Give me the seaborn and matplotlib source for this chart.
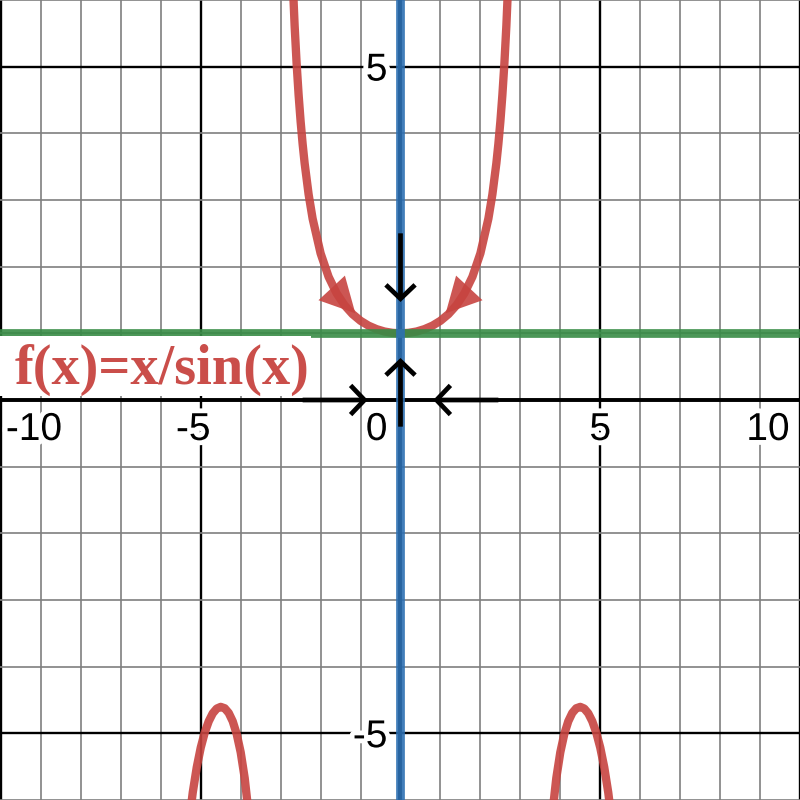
import numpy as np
import pandas as pd
import matplotlib
matplotlib.use("Agg")
import matplotlib.pyplot as plt
import matplotlib.patheffects as pe
from matplotlib.patches import Rectangle
import seaborn as sns

# ---------------- data ----------------
# central branch of f(x) = x / sin(x)
center_x = [-2.75, -2.7, -2.65, -2.6, -2.55, -2.5, -2.45, -2.4, -2.3, -2.2, -2.0, -1.8,
            -1.6, -1.4, -1.2, -1.0, -0.8, -0.6, -0.4, -0.2, 0.0,
            0.2, 0.4, 0.6, 0.8, 1.0, 1.2, 1.4, 1.6, 1.8, 2.0, 2.2, 2.3, 2.4,
            2.45, 2.5, 2.55, 2.6, 2.65, 2.7, 2.75]
center_y = [7.205, 6.318, 5.614, 5.044, 4.573, 4.177, 3.842, 3.553, 3.084, 2.721, 2.200, 1.848,
            1.601, 1.421, 1.288, 1.188, 1.115, 1.063, 1.027, 1.007, 1.000,
            1.007, 1.027, 1.063, 1.115, 1.188, 1.288, 1.421, 1.601, 1.848, 2.200, 2.721, 3.084, 3.553,
            3.842, 4.177, 4.573, 5.044, 5.614, 6.318, 7.205]
# negative branches between pi and 2*pi (and mirrored)
right_x = [3.8, 3.9, 4.0, 4.1, 4.2, 4.3, 4.4, 4.5, 4.6, 4.7, 4.8, 4.9, 5.0, 5.1, 5.2, 5.3]
right_y = [-6.211, -5.671, -5.285, -5.011, -4.819, -4.694, -4.624, -4.603, -4.629, -4.700,
           -4.819, -4.988, -5.214, -5.509, -5.886, -6.368]
left_x = [-3.8, -3.9, -4.0, -4.1, -4.2, -4.3, -4.4, -4.5, -4.6, -4.7, -4.8, -4.9, -5.0, -5.1, -5.2, -5.3]
left_y = right_y

green_level = 1.0          # horizontal line y = 1
blue_x = 0.0               # vertical line x = 0

# black arrows: (start, end)
black_arrows = [((0.0, 2.5), (0.0, 1.47)),
                ((0.0, -0.4), (0.0, 0.63)),
                ((-2.45, 0.0), (-0.82, 0.0)),
                ((2.45, 0.0), (0.82, 0.0))]
# red arrow heads on the curve: (tail, tip)
red_arrows = [((-2.00, 1.86), (-1.13, 1.30)),
              ((2.00, 1.86), (1.13, 1.30))]

x_tick_labels = ["-10", "-5", "0", "5", "10"]
x_tick_vals = [-10, -5, 0, 5, 10]
y_tick_labels = ["5", "-5"]
y_tick_vals = [5, -5]
label_text = "f(x)=x/sin(x)"

RED = "#c74440"
GREEN = "#388c46"
BLUE = "#2d70b3"

# ---------------- figure ----------------
sns.set_style("white")
plt.rcParams["font.family"] = ["Liberation Sans", "DejaVu Sans"]

fig = plt.figure(figsize=(8, 8), dpi=100)
ax = fig.add_axes([0, 0, 1, 1])
ax.set_xlim(-10.025, 9.975)
ax.set_ylim(-6.0, 6.0)

# grid
ax.set_xticks(np.arange(-10, 11, 5))
ax.set_xticks(np.arange(-10, 11, 1), minor=True)
ax.set_yticks(np.arange(-5, 6, 5))
ax.set_yticks(np.arange(-6, 7, 1), minor=True)
ax.grid(which="minor", color="#7f7f7f", lw=1.2, zorder=0)
ax.grid(which="major", color="black", lw=1.7, zorder=0.5)
ax.tick_params(which="both", length=0, labelbottom=False, labelleft=False)
for s in ax.spines.values():
    s.set_visible(False)
ax.set_axisbelow(True)
ax.axhline(0, color="black", lw=2.8, zorder=1)
ax.axvline(0, color="black", lw=2.8, zorder=1)

# curve branches
for bx, by in [(center_x, center_y), (right_x, right_y), (left_x, left_y)]:
    df = pd.DataFrame({"x": bx, "y": by})
    sns.lineplot(data=df, x="x", y="y", sort=False, estimator=None, ax=ax,
                 color=RED, lw=6.0, alpha=0.9, zorder=3, solid_capstyle="round")

# green and blue lines
ax.axhline(green_level, color=GREEN, lw=6.3, alpha=0.9, zorder=4)
ax.axvline(blue_x, color=BLUE, lw=6.3, alpha=0.9, zorder=5)

# black arrows
for (sx, sy), (ex, ey) in black_arrows:
    ax.annotate("", xy=(ex, ey), xytext=(sx, sy),
                arrowprops=dict(arrowstyle="->,head_length=10,head_width=10.5",
                                mutation_scale=1, color="black", lw=3.4,
                                shrinkA=0, shrinkB=0, capstyle="butt",
                                joinstyle="miter"),
                zorder=6)

# red arrow heads
for (sx, sy), (ex, ey) in red_arrows:
    ax.annotate("", xy=(ex, ey), xytext=(sx, sy),
                arrowprops=dict(arrowstyle="-|>,head_length=25,head_width=13",
                                mutation_scale=1, fc=RED, ec="none", lw=0,
                                alpha=0.9, shrinkA=0, shrinkB=0),
                zorder=6)

# label box and text
ax.add_patch(Rectangle((-10.2, 0.06), 7.97, 0.9, facecolor="white",
                       edgecolor="none", zorder=7))
ax.text(-9.66, 0.25, label_text, color=RED, fontsize=40.5, fontweight="bold",
        family=["Liberation Serif", "DejaVu Serif"], ha="left", va="baseline",
        zorder=8, alpha=0.95)

# tick labels with white halo
halo = [pe.withStroke(linewidth=7, foreground="white")]
x_offsets = [(3.5, "left"), (-5.4, "center"), (-9.4, "right"), (0, "center"), (-7.5, "right")]
for val, txt, (dx, ha) in zip(x_tick_vals, x_tick_labels, x_offsets):
    ax.annotate(txt, xy=(val, 0), xytext=(dx, -28.8), textcoords="offset points",
                ha=ha, va="baseline", fontsize=28, color="black",
                path_effects=halo, zorder=9, annotation_clip=False)
for val, txt in zip(y_tick_vals, y_tick_labels):
    ax.annotate(txt, xy=(0, val), xytext=(-9.4, -10.0), textcoords="offset points",
                ha="right", va="baseline", fontsize=28, color="black",
                path_effects=halo, zorder=9)

fig.savefig("out.png", dpi=100)
